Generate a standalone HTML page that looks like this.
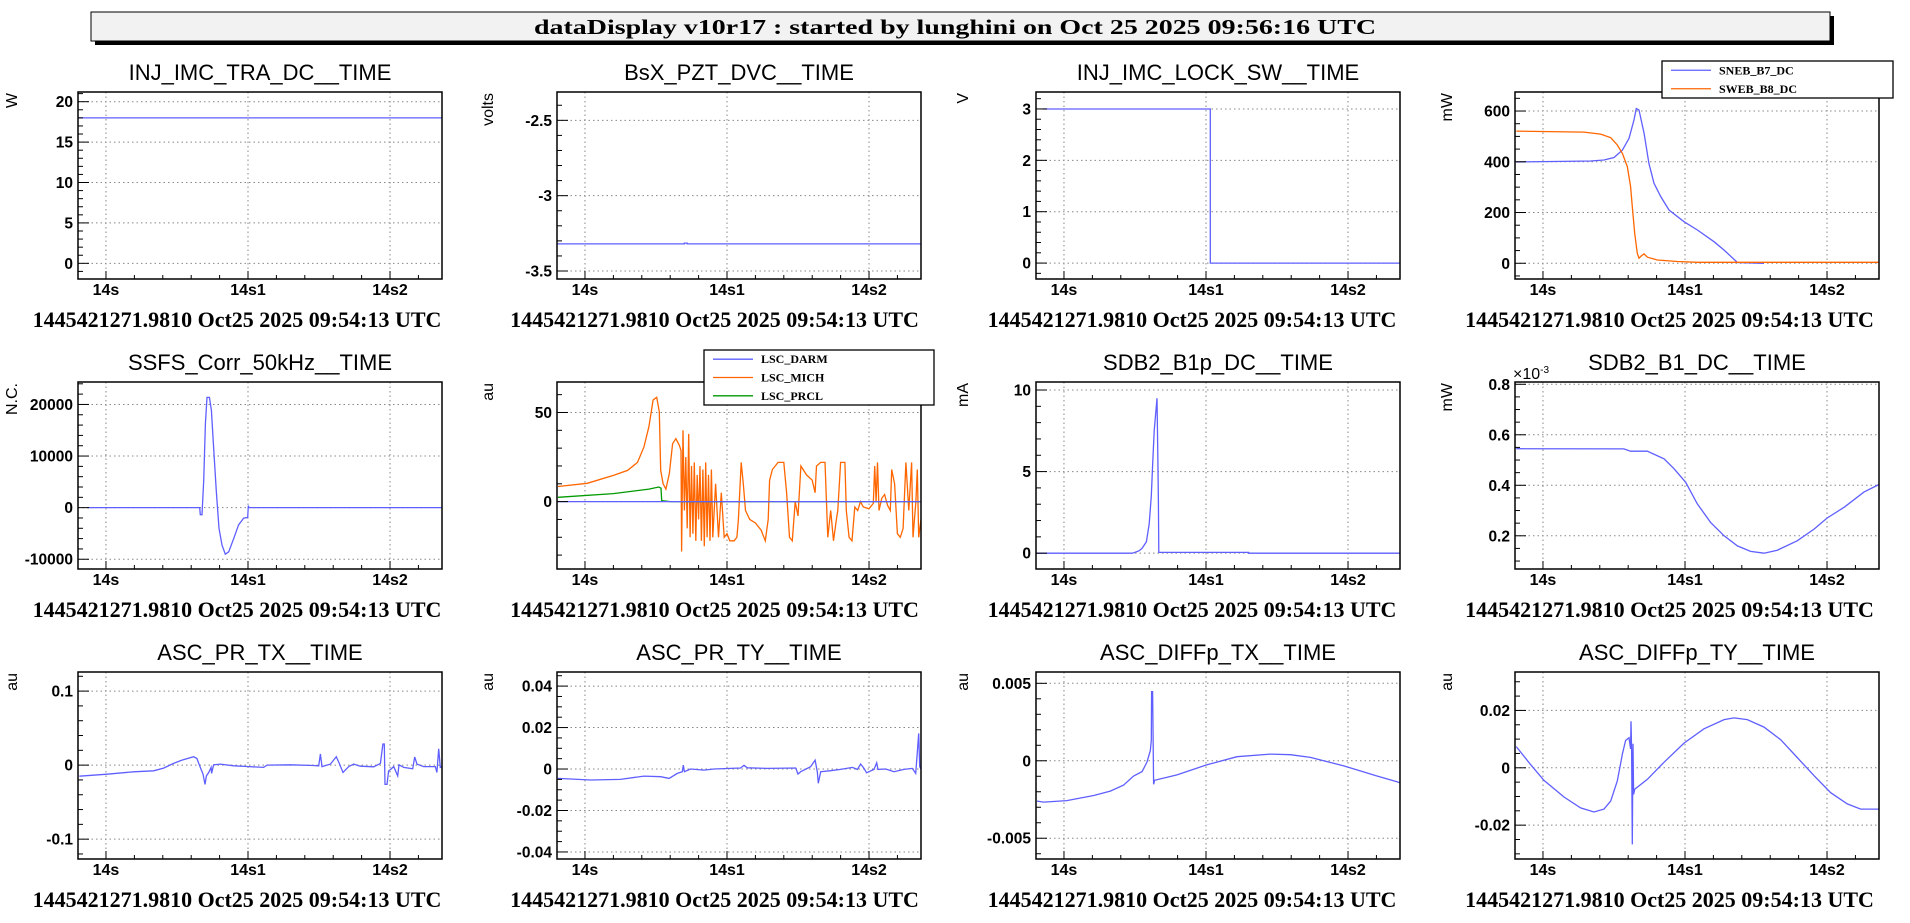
<!DOCTYPE html>
<html><head><meta charset="utf-8"><style>
html,body{margin:0;padding:0;background:#fff;}
svg{display:block;}
.ttl{font-family:"Liberation Sans",sans-serif;font-size:22px;fill:#000;}
.tk{font-family:"Liberation Sans",sans-serif;font-size:15.5px;font-weight:bold;fill:#000;}
.xt{font-family:"Liberation Sans",sans-serif;font-size:16px;font-weight:bold;fill:#000;}
.dt{font-family:"Liberation Serif",serif;font-size:22px;font-weight:bold;fill:#000;}
.un{font-family:"Liberation Sans",sans-serif;font-size:16px;fill:#000;}
.lg{font-family:"Liberation Serif",serif;font-size:12px;font-weight:bold;fill:#000;}
</style></head><body>
<svg id="root" width="1910" height="923" viewBox="0 0 1910 923" xmlns="http://www.w3.org/2000/svg">
<g>
<rect x="95" y="16" width="1739" height="29" fill="#000"/>
<rect x="91" y="12" width="1739" height="29" fill="#f2f2f2" stroke="#000" stroke-width="1"/>
<text x="534" y="34" textLength="842" lengthAdjust="spacingAndGlyphs" style="font-family:'Liberation Serif',serif;font-size:21px;font-weight:bold">dataDisplay v10r17 : started by lunghini on Oct 25 2025 09:56:16 UTC</text>
</g>
</svg>
<script>
// ---- data (x in 0.1s units: 0 = "14s", 1 = "14s1", 2 = "14s2") ----
const xTickLabels = ["14s","14s1","14s2"];
const xTickValues = [0,1,2];
const dateLabel = "1445421271.9810 Oct25 2025 09:54:13 UTC";

const p1_x=[-0.197,2.366]; const p1_y=[18,18];
const p2_x=[-0.197,0.7,0.7,0.72,0.72,2.366]; const p2_y=[-3.32,-3.32,-3.315,-3.315,-3.32,-3.32];
const p3_x=[-0.15,1.03,1.03,2.366]; const p3_y=[3,3,0,0];
const p4a_x=[-0.188,0.336,0.43,0.5,0.559,0.606,0.641,0.657,0.676,0.712,0.746,0.782,0.829,0.887,0.993,1.087,1.204,1.275,1.369,1.556];
const p4a_y=[399,403,407,417,446,492,565,610,604,512,394,315,263,210,164,131,85,52,3,0];
const p4b_x=[-0.188,0.289,0.406,0.477,0.523,0.559,0.594,0.617,0.629,0.646,0.664,0.676,0.692,0.711,0.735,0.805,0.946,1.087,2.366];
const p4b_y=[521,517,509,495,466,433,381,302,223,118,39,20,29,37,24,13,7,4,4];
const p5_x=[-0.13,0.66,0.664,0.676,0.688,0.70,0.711,0.728,0.742,0.758,0.777,0.796,0.817,0.84,0.864,0.9,0.934,0.97,0.998,1.002,1.007,2.366];
const p5_y=[0,0,-1370,-1370,5160,16270,21370,21370,18890,11700,3200,-3990,-7250,-9020,-8560,-5950,-3330,-2030,-1900,390,0,0];
const p6a_x=[-0.19,2.366]; const p6a_y=[0,0];
const p6b_x=[-0.19,0.016,0.2,0.3,0.37,0.415,0.45,0.48,0.505,0.523,0.533,0.55,0.57,0.594,0.617,0.64,0.664,0.676,0.68,0.69,0.70,0.71,0.72,0.73,0.74,0.75,0.76,0.77,0.78,0.79,0.80,0.81,0.82,0.83,0.84,0.85,0.86,0.87,0.88,0.89,0.90,0.92,0.94,0.96,0.98,1.0,1.02,1.05,1.07,1.08,1.1,1.115,1.13,1.16,1.2,1.24,1.27,1.29,1.3,1.32,1.36,1.4,1.42,1.44,1.46,1.48,1.5,1.52,1.56,1.6,1.62,1.63,1.66,1.69,1.71,1.73,1.75,1.77,1.78,1.8,1.83,1.84,1.86,1.88,1.9,1.92,1.94,1.96,2.0,2.03,2.04,2.05,2.06,2.07,2.09,2.11,2.13,2.15,2.16,2.18,2.2,2.22,2.24,2.26,2.28,2.3,2.31,2.33,2.34,2.35,2.366];
const p6b_y=[8.5,10.3,14.7,17.5,22,30.6,42,57,58.5,50.4,17.5,10,7,15.6,32.5,35.3,31.6,28.8,-28,40,-5,25,-15,38,-20,20,-18,22,-22,15,-10,20,-22,18,-25,22,-20,15,-22,18,-20,10,-20,5,-20,-18,-22,-22,-20,-10,22,10,-5,-10,-12,-16,-22,-10,12,18,22,22,5,-20,-22,0,-8,20,15,12,5,20,22,22,-20,-5,-22,-10,-5,22,22,-5,-20,-22,-3,-5,0,-3,-4,-1,20,0,22,-5,2,4,-2,-5,18,10,-18,-20,-15,22,-5,22,-20,0,18,-20,-10];
const p6c_x=[-0.19,0.2,0.45,0.52,0.535,0.54,0.6,2.366]; const p6c_y=[2.4,4.5,7,8.2,7.5,0.5,0,0];
const p7_x=[-0.19,0.48,0.5,0.53,0.55,0.58,0.6,0.615,0.625,0.635,0.645,0.655,0.66,0.665,0.668,1.3,1.3,2.366];
const p7_y=[0,0,0.05,0.15,0.3,0.7,1.8,3.5,5.5,7.5,8.5,9.5,6.5,3.2,0.05,0.05,0,0];
const p8_x=[-0.188,0.57,0.617,0.735,0.852,0.922,1.005,1.087,1.18,1.275,1.369,1.462,1.556,1.65,1.79,1.91,2.0,2.12,2.26,2.366];
const p8_y=[0.545,0.544,0.535,0.535,0.505,0.466,0.412,0.326,0.253,0.2,0.16,0.138,0.131,0.143,0.18,0.227,0.27,0.313,0.373,0.403];
const p9_x=[-0.188,0.007,0.195,0.336,0.406,0.476,0.535,0.617,0.64,0.664,0.683,0.697,0.707,0.723,0.74,0.744,0.758,0.805,0.899,0.993,1.11,1.134,1.298,1.462,1.498,1.51,1.521,1.58,1.622,1.645,1.669,1.709,1.744,1.79,1.885,1.932,1.95,1.96,1.965,1.979,1.99,2.026,2.054,2.063,2.096,2.16,2.174,2.19,2.237,2.319,2.33,2.343,2.354,2.366];
const p9_y=[-0.015,-0.0123,-0.009,-0.0077,-0.004,0.0023,0.0068,0.0114,0.009,-0.003,-0.012,-0.026,-0.0145,-0.01,-0.003,-0.011,0.0005,0.0014,-0.0009,-0.0018,-0.003,0,0.0005,-0.0005,-0.001,0.015,-0.002,0.0014,0.0114,0.0014,-0.01,-0.002,0.0014,-0.0014,-0.0023,0.0023,0.0286,0.0286,-0.026,-0.026,-0.008,-0.002,-0.0145,0.0005,-0.003,-0.005,0.011,0.0014,-0.002,-0.002,-0.01,0.022,-0.003,-0.002];
const p10_x=[-0.19,0.04,0.25,0.415,0.533,0.592,0.65,0.685,0.692,0.70,0.744,0.838,0.908,1.096,1.12,1.143,1.284,1.484,1.5,1.519,1.589,1.62,1.636,1.643,1.66,1.73,1.8,1.883,1.918,1.941,1.965,1.983,2.035,2.054,2.063,2.117,2.176,2.246,2.305,2.329,2.34,2.35,2.357,2.366];
const p10_y=[-0.0045,-0.0053,-0.005,-0.0034,-0.0037,-0.0045,-0.0021,-0.0013,0.0019,-0.0013,0,-0.0005,0,0.0005,0.0018,0.0006,0.0003,0.0005,-0.0024,-0.0013,0.0011,0.0043,-0.0013,-0.0069,-0.0013,-0.0008,-0.0002,0.0008,-0.0002,0.0024,0.0003,-0.0018,-0.0002,0.003,-0.0002,0,-0.0013,-0.0002,0.0003,-0.0021,0.0079,0.0172,0.0011,0];
const p11_x=[-0.19,-0.143,0.02,0.209,0.326,0.42,0.49,0.55,0.584,0.608,0.615,0.617,0.624,0.627,0.631,0.638,0.796,1.007,1.218,1.453,1.594,1.735,1.97,2.204,2.364];
const p11_y=[-0.0026,-0.00267,-0.00257,-0.00224,-0.00196,-0.00157,-0.00098,-0.0007,-0.0001,0.00065,0.0013,0.00446,0.00446,0.00217,-0.00152,-0.00126,-0.00091,-0.00026,0.00026,0.00043,0.00039,0.00022,-0.00033,-0.00098,-0.00141];
const p12_x=[-0.188,-0.087,0.007,0.148,0.265,0.359,0.43,0.477,0.523,0.559,0.582,0.606,0.617,0.62,0.624,0.629,0.634,0.638,0.646,0.735,0.852,0.993,1.134,1.275,1.345,1.439,1.556,1.674,1.79,1.91,2.026,2.143,2.237,2.366];
const p12_y=[0.0074,0.0011,-0.0044,-0.0102,-0.014,-0.0154,-0.0144,-0.0116,-0.0046,0.0048,0.0095,0.0105,0.0066,0.0162,0.0066,-0.0267,0.0084,-0.0093,-0.0075,-0.004,0.0019,0.0086,0.0136,0.0168,0.0174,0.0168,0.0142,0.0098,0.0036,-0.0028,-0.0087,-0.0126,-0.0144,-0.0144];

const BLUE="#5f5fff", ORANGE="#ff6600", GREEN="#009a00";
const colLeft=[78,557,1036,1515], rowTop=[92,382,672], PW=364, PH=187;
const XMIN=-0.197, XMAX=2.366;

const panels=[
 {name:"INJ_IMC_TRA_DC__TIME",unit:"W",ymin:-1.94,ymax:21.2,ticks:[0,5,10,15,20],labels:["0","5","10","15","20"],minor:1,series:[[p1_x,p1_y,BLUE,"series-inj-imc-tra-dc"]]},
 {name:"BsX_PZT_DVC__TIME",unit:"volts",ymin:-3.553,ymax:-2.312,ticks:[-3.5,-3,-2.5],labels:["-3.5","-3","-2.5"],minor:0.1,series:[[p2_x,p2_y,BLUE,"series-bsx-pzt-dvc"]]},
 {name:"INJ_IMC_LOCK_SW__TIME",unit:"V",ymin:-0.31,ymax:3.33,ticks:[0,1,2,3],labels:["0","1","2","3"],minor:0.2,series:[[p3_x,p3_y,BLUE,"series-inj-imc-lock-sw"]]},
 {name:"",unit:"mW",ymin:-62,ymax:675,ticks:[0,200,400,600],labels:["0","200","400","600"],minor:50,series:[[p4a_x,p4a_y,BLUE,"series-sneb-b7-dc"],[p4b_x,p4b_y,ORANGE,"series-sweb-b8-dc"]],
  legend:{x:1662,y:61,w:231,h:37,items:[["SNEB_B7_DC",BLUE],["SWEB_B8_DC",ORANGE]]}},
 {name:"SSFS_Corr_50kHz__TIME",unit:"N.C.",ymin:-11890,ymax:24350,ticks:[-10000,0,10000,20000],labels:["-10000","0","10000","20000"],minor:2000,series:[[p5_x,p5_y,BLUE,"series-ssfs-corr"]]},
 {name:"",unit:"au",ymin:-37.8,ymax:67.1,ticks:[0,50],labels:["0","50"],minor:10,series:[[p6b_x,p6b_y,ORANGE,"series-lsc-mich"],[p6c_x,p6c_y,GREEN,"series-lsc-prcl"],[p6a_x,p6a_y,BLUE,"series-lsc-darm"]],
  legend:{x:704,y:350,w:230,h:55,items:[["LSC_DARM",BLUE],["LSC_MICH",ORANGE],["LSC_PRCL",GREEN]]}},
 {name:"SDB2_B1p_DC__TIME",unit:"mA",ymin:-0.97,ymax:10.49,ticks:[0,5,10],labels:["0","5","10"],minor:1,series:[[p7_x,p7_y,BLUE,"series-sdb2-b1p-dc"]]},
 {name:"SDB2_B1_DC__TIME",unit:"mW",ymin:0.0685,ymax:0.809,ticks:[0.2,0.4,0.6,0.8],labels:["0.2","0.4","0.6","0.8"],minor:0.05,exp:true,series:[[p8_x,p8_y,BLUE,"series-sdb2-b1-dc"]]},
 {name:"ASC_PR_TX__TIME",unit:"au",ymin:-0.1268,ymax:0.1258,ticks:[-0.1,0,0.1],labels:["-0.1","0","0.1"],minor:0.02,series:[[p9_x,p9_y,BLUE,"series-asc-pr-tx"]]},
 {name:"ASC_PR_TY__TIME",unit:"au",ymin:-0.0434,ymax:0.0468,ticks:[-0.04,-0.02,0,0.02,0.04],labels:["-0.04","-0.02","0","0.02","0.04"],minor:0.005,series:[[p10_x,p10_y,BLUE,"series-asc-pr-ty"]]},
 {name:"ASC_DIFFp_TX__TIME",unit:"au",ymin:-0.00634,ymax:0.00573,ticks:[-0.005,0,0.005],labels:["-0.005","0","0.005"],minor:0.001,series:[[p11_x,p11_y,BLUE,"series-asc-diffp-tx"]]},
 {name:"ASC_DIFFp_TY__TIME",unit:"au",ymin:-0.0318,ymax:0.0334,ticks:[-0.02,0,0.02],labels:["-0.02","0","0.02"],minor:0.005,series:[[p12_x,p12_y,BLUE,"series-asc-diffp-ty"]]}
];

const NS="http://www.w3.org/2000/svg";
const root=document.getElementById('root');
function mk(tag,attrs,parent){const e=document.createElementNS(NS,tag);for(const k in attrs)e.setAttribute(k,attrs[k]);parent.appendChild(e);return e;}

panels.forEach((p,i)=>{
  const r=Math.floor(i/4), c=i%4;
  const L=colLeft[c], T=rowTop[r];
  const sx=v=>L+(v-XMIN)/(XMAX-XMIN)*PW;
  const sy=v=>T+PH-(v-p.ymin)/(p.ymax-p.ymin)*PH;
  const g=mk('g',{},root);
  
  
  if(p.name){
    const t=mk('text',{x:L+PW/2,y:T-12,'text-anchor':'middle',class:'ttl'},g);t.textContent=p.name;
    
    
  }
  xTickValues.forEach(v=>{const l=mk('line',{x1:sx(v),x2:sx(v),y1:T,y2:T+PH,stroke:'#888','stroke-dasharray':'1.5,3','stroke-width':1},g);
    
    });
  p.ticks.forEach(v=>{const l=mk('line',{x1:L,x2:L+PW,y1:sy(v),y2:sy(v),stroke:'#888','stroke-dasharray':'1.5,3','stroke-width':1},g);
    
    });
  const cid='clip'+i;
  const cp=mk('clipPath',{id:cid},g);mk('rect',{x:L,y:T,width:PW,height:PH},cp);
  p.series.forEach(s=>{
    const [xs,ys,col,nm]=s;
    const pts=xs.map((x,k)=>sx(x).toFixed(1)+','+sy(ys[k]).toFixed(1)).join(' ');
    const pl=mk('polyline',{points:pts,fill:'none',stroke:col,'stroke-width':1.3,'clip-path':'url(#'+cid+')'},g);
    
    
  });
  const fr=mk('rect',{x:L,y:T,width:PW,height:PH,fill:'none',stroke:'#000','stroke-width':1.5},g);
  
  
  for(let v=0;v<=XMAX;v+=0.2){
    const vv=Math.round(v*10)/10, major=Math.abs(vv-Math.round(vv))<1e-6;
    mk('line',{x1:sx(vv),x2:sx(vv),y1:T+PH,y2:T+PH-(major?8:4),stroke:'#000','stroke-width':1},g);
  }
  xTickValues.forEach((v,k)=>{const t=mk('text',{x:sx(v),y:T+PH+16,'text-anchor':'middle',class:'xt'},g);t.textContent=xTickLabels[k];
    
    });
  const start=Math.ceil(p.ymin/p.minor-1e-6);
  for(let k=start;k*p.minor<=p.ymax;k++){
    const v=k*p.minor;
    const major=p.ticks.some(t=>Math.abs(t-v)<p.minor*0.01);
    mk('line',{x1:L,x2:L+(major?11:5),y1:sy(v),y2:sy(v),stroke:'#000','stroke-width':1},g);
  }
  p.ticks.forEach((v,k)=>{const t=mk('text',{x:L-5,y:sy(v)+5.5,'text-anchor':'end',class:'tk'},g);t.textContent=p.labels[k];
    
    });
  if(p.exp){const t=mk('text',{x:L-2,y:T-3,class:'un','font-size':'14'},g);t.innerHTML='×10<tspan dy="-6" font-size="10">-3</tspan>';
    
    }
  const ux=L-(c===0?61:c===1?64:c===2?68:63), uy=T+1;
  const u=mk('text',{x:ux,y:uy,'text-anchor':'end',class:'un',transform:'rotate(-90 '+ux+' '+uy+')'},g);u.textContent=p.unit;
  
  
  const d=mk('text',{x:c*477.5+237,y:T+PH+48,'text-anchor':'middle',class:'dt'},g);d.textContent=dateLabel;
  
  
  if(p.legend){
    const lg=p.legend;
    const lgg=mk('g',{},g);
    
    
    mk('rect',{x:lg.x,y:lg.y,width:lg.w,height:lg.h,fill:'#fff',stroke:'#000','stroke-width':1.3},lgg);
    const step=lg.h/lg.items.length;
    lg.items.forEach((it,k)=>{
      const yy=lg.y+step*(k+0.5);
      const e=mk('g',{},lgg);
      
      
      mk('line',{x1:lg.x+9,x2:lg.x+49,y1:yy,y2:yy,stroke:it[1],'stroke-width':1.3},e);
      const t=mk('text',{x:lg.x+57,y:yy+4,class:'lg'},e);t.textContent=it[0];
    });
  }
});
</script>
</body></html>
